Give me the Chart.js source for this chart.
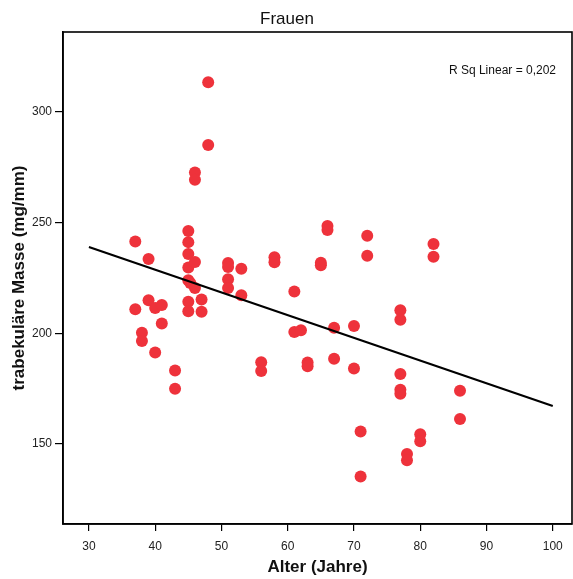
<!DOCTYPE html>
<html>
<head>
<meta charset="utf-8">
<script src="https://cdn.jsdelivr.net/npm/chart.js@4"></script>
<style>
  html, body { margin: 0; padding: 0; background: #fff; overflow: hidden; }
  #wrap { width: 573px; height: 579px; }
  canvas { display: block; }
</style>
</head>
<body>
<div id="wrap"><canvas id="c" width="573" height="579"></canvas></div>
<script>
// ---- data ----
const ages = [37,37,38,38,39,39,40,40,41,41,43,43,
  45,45,45,45,45,45.3,45,45,46,46,46,46,47,47,48,48,
  51,51,51,51,53,53,56,56,58,58,61,61,62,63,63,65,65,66,66,67,67,
  70,70,71,71,72,72,77,77,77,77,77,78,78,80,80,82,82,86,86];
const mass = [241.5,210.9,200.3,196.6,233.6,215.0,211.5,191.4,212.8,204.5,183.2,175.0,
  246.2,241.2,235.8,229.7,224.0,222.7,214.3,210.0,272.7,269.4,232.2,220.5,215.3,209.8,313.4,285.1,
  231.8,230.0,224.4,220.5,229.2,217.2,186.9,183.0,234.4,232.1,218.9,200.6,201.4,186.8,185.1,231.9,230.8,248.5,246.7,202.5,188.5,
  203.3,184.1,155.7,135.3,244.1,235.1,210.4,206.1,181.6,174.5,172.7,145.5,142.7,154.4,151.3,240.4,234.6,174.1,161.3];
const fitX = [30, 100];
const fitY = [239.0, 167.2];
const xTicks = [30,40,50,60,70,80,90,100];
const yTicks = [150,200,250,300];
const titleText = 'Frauen';
const xTitle = 'Alter (Jahre)';
const yTitle = 'trabekuläre Masse (mg/mm)';
const rsqText = 'R Sq Linear = 0,202';

const FONT = '"Liberation Sans", Arial, Helvetica, sans-serif';

const points = ages.map((a, i) => ({x: a, y: mass[i]}));
const fitLine = fitX.map((a, i) => ({x: a, y: fitY[i]}));

const textPlugin = {
  id: 'texts',
  afterDraw(chart) {
    const ctx = chart.ctx;
    const a = chart.chartArea;
    ctx.save();
    // frame
    ctx.strokeStyle = '#000';
    ctx.lineWidth = 1.6;
    ctx.strokeRect(a.left, a.top, a.right - a.left, a.bottom - a.top);
    ctx.fillStyle = '#111';
    // title
    ctx.font = '17px ' + FONT;
    ctx.textAlign = 'center';
    ctx.textBaseline = 'middle';
    ctx.fillText(titleText, 287, 19);
    // R sq
    ctx.font = '12px ' + FONT;
    ctx.textAlign = 'right';
    ctx.fillText(rsqText, 556, 71);
    // axis titles
    ctx.font = 'bold 17px ' + FONT;
    ctx.textAlign = 'center';
    ctx.fillText(xTitle, (a.left + a.right) / 2, 567);
    ctx.translate(19, (a.top + a.bottom) / 2);
    ctx.rotate(-Math.PI / 2);
    ctx.fillText(yTitle, 0, 0);
    ctx.restore();
  }
};

new Chart(document.getElementById('c'), {
  type: 'scatter',
  data: {
    datasets: [
      {
        type: 'line',
        data: fitLine,
        borderColor: '#000',
        borderWidth: 2.2,
        pointRadius: 0,
        fill: false,
        order: 0
      },
      {
        data: points,
        backgroundColor: '#ee323b',
        borderColor: '#ee323b',
        borderWidth: 0,
        pointRadius: 6,
        order: 1
      }
    ]
  },
  options: {
    responsive: false,
    animation: false,
    events: [],
    layout: { autoPadding: false, padding: { left: 0, top: 32, right: 1, bottom: 0 } },
    plugins: { legend: { display: false }, tooltip: { enabled: false }, title: { display: false } },
    scales: {
      x: {
        type: 'linear',
        min: 26.09,
        max: 102.9,
        afterBuildTicks: s => { s.ticks = xTicks.map(v => ({value: v})); },
        afterFit: s => { s.height = 55; s.paddingLeft = 0; s.paddingRight = 0; },
        grid: { drawOnChartArea: false, drawTicks: true, tickLength: 7, color: '#000', lineWidth: 1.2 },
        border: { display: true, color: '#000', width: 1.6 },
        ticks: { color: '#222', font: { family: FONT, size: 12 }, padding: 8, maxRotation: 0, autoSkip: false }
      },
      y: {
        type: 'linear',
        min: 113.9,
        max: 336.1,
        afterBuildTicks: s => { s.ticks = yTicks.map(v => ({value: v})); },
        afterFit: s => { s.width = 63; s.paddingTop = 0; s.paddingBottom = 0; },
        grid: { drawOnChartArea: false, drawTicks: true, tickLength: 8, color: '#000', lineWidth: 1.2 },
        border: { display: true, color: '#000', width: 1.6 },
        ticks: { color: '#222', font: { family: FONT, size: 12 }, padding: 3, autoSkip: false }
      }
    }
  },
  plugins: [textPlugin]
});
</script>
</body>
</html>
